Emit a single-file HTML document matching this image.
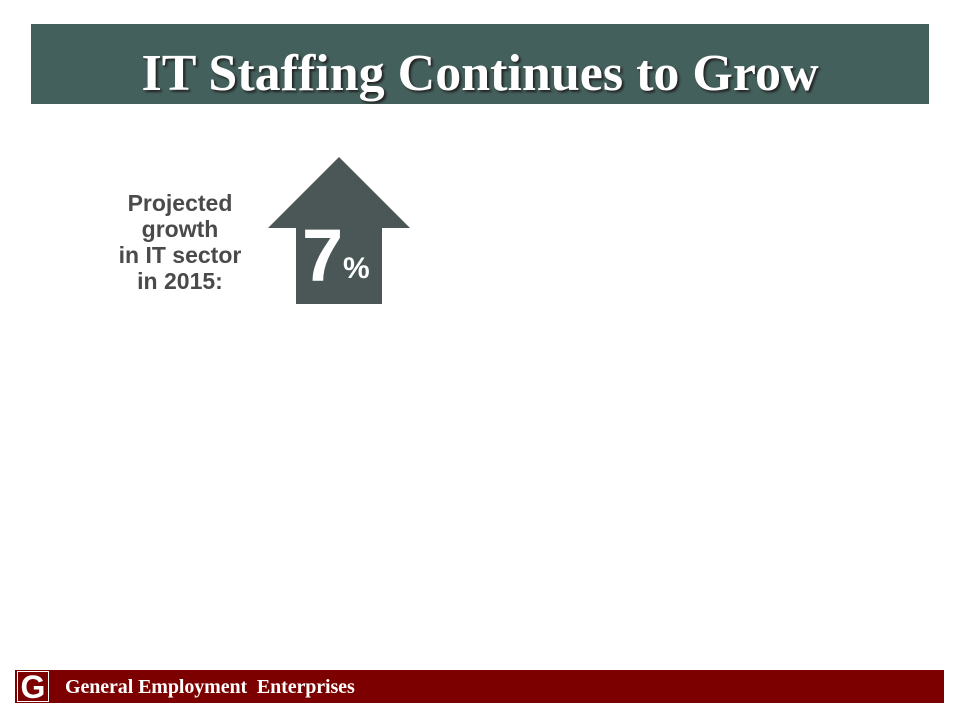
<!DOCTYPE html>
<html><head><style>
body{margin:0;width:960px;height:720px;background:#fff;position:relative;overflow:hidden;font-family:"Liberation Sans",sans-serif}
.t{position:absolute;left:31px;top:24px;width:898px;height:80px;background:#44605c;color:#fff;font-family:"Liberation Serif",serif;font-weight:bold;font-size:52px;line-height:100px;text-align:center;text-shadow:2px 2px 2px #222;overflow:hidden}
.l{position:absolute;left:100px;top:190px;width:160px;text-align:center;color:#4a4a4a;font-weight:bold;font-size:23px;line-height:26px}
.f{position:absolute;left:15px;top:670px;width:929px;height:33px;background:#7d0000}
.f span{position:absolute;left:50px;top:0;color:#fff;font-family:"Liberation Serif",serif;font-weight:bold;font-size:20px;line-height:35px;letter-spacing:-0.1px}
.g{position:absolute;left:2px;top:1px;width:32px;height:31px;background:#7d0000;border:1px solid #fff;box-sizing:border-box;color:#fff;font-family:"Liberation Sans",sans-serif;font-weight:bold;font-size:32px;line-height:31px;text-align:center}
</style></head><body>
<div class="t">IT Staffing Continues to Grow</div>
<div class="l">Projected<br>growth<br>in IT sector<br>in 2015:</div>
<svg style="position:absolute;left:0;top:0" width="960" height="720">
<polygon points="339,157 410,228 382,228 382,304 296,304 296,228 268,228" fill="#4a5756"/>
<text x="302" y="281" fill="#fff" font-family="Liberation Sans" font-weight="bold" font-size="74">7</text>
<text x="343" y="278" fill="#fff" font-family="Liberation Sans" font-weight="bold" font-size="30">%</text>
</svg>
<div class="f"><div class="g">G</div><span>General Employment&nbsp; Enterprises</span></div>
</body></html>
